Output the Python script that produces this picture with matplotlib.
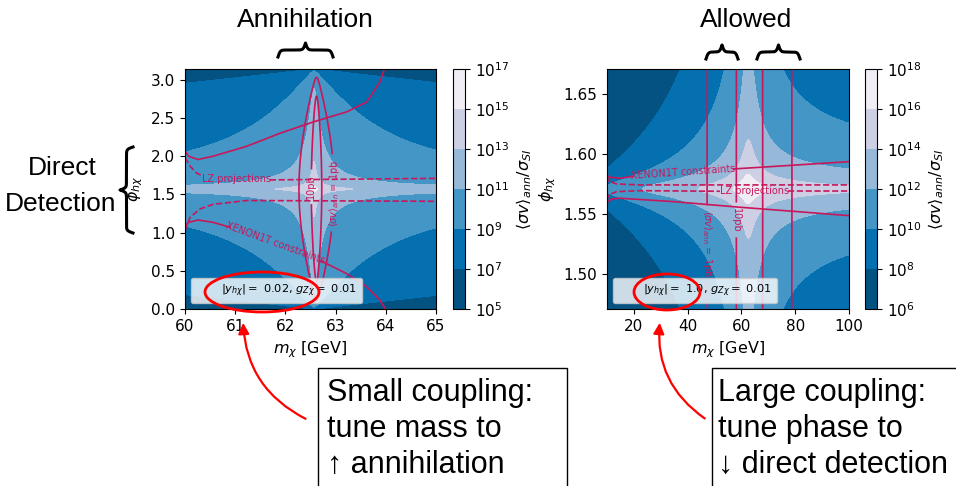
import numpy as np
import matplotlib
matplotlib.use('Agg')
import matplotlib.pyplot as plt
from matplotlib.lines import Line2D
from matplotlib.patches import Ellipse, Rectangle, FancyArrowPatch

# ---- colour bands of <sigma v>/sigma_SI (log10) ----
left_levels = [5, 7, 9, 11, 13, 15, 17]
right_levels = [6, 8, 10, 12, 14, 16, 18]
band_colors = ['#045282', '#0570b0', '#4496c7', '#96b8d9', '#cdcfe5', '#f1edf5']

# model parameters of the ratio field
left_ratio = dict(C=12.15, m0=62.57, w=0.036, q=1.0, n=0.0, p=1.0, b=3e-4, eps=1e-4)
right_ratio = dict(C=8.47, m0=62.5, w=1.8, q=1.6, n=3.5, p=2.0, b=2.2e-5, eps=1e-4)

# annihilation cross section (pb) contours
sv_levels = [1, 10]
left_sv = dict(S0=82.6, m0=62.62, w=0.0387)
right_sv = dict(S0=250.0, m0=63.0, w=1.0)

# XENON1T / LZ curves (m, phi)
xen_up_L_m = [59.98, 60.07, 60.26, 60.56, 61.23, 61.89, 62.56, 63.22, 63.62, 63.88, 64.02]
xen_up_L_p = [2.09, 2.00, 1.957, 2.00, 2.13, 2.30, 2.45, 2.58, 2.71, 2.97, 3.23]
xen_lo_L_m = [59.98, 60.07, 60.26, 60.56, 60.9, 61.56, 62.22, 62.69, 63.22, 63.62, 63.88, 63.98]
xen_lo_L_p = [1.069, 1.134, 1.165, 1.134, 1.069, 0.896, 0.766, 0.636, 0.463, 0.29, 0.117, 0.009]
lz_up_L_m = [60.0, 60.1, 60.23, 60.36, 61.69, 65.0]
lz_up_L_p = [1.98, 1.87, 1.78, 1.74, 1.69, 1.71]
lz_lo_L_m = [60.0, 60.1, 60.3, 60.56, 61.23, 65.0]
lz_lo_L_p = [1.026, 1.20, 1.31, 1.37, 1.42, 1.41]

xen_up_R_m = [10, 11.1, 14.8, 19.8, 57.0, 80.5, 100]
xen_up_R_p = [1.582, 1.5806, 1.5797, 1.5814, 1.5875, 1.5908, 1.5936]
xen_lo_R_m = [10, 11.7, 14.8, 34.6, 59.4, 80.5, 100]
xen_lo_R_p = [1.5597, 1.5625, 1.5631, 1.5603, 1.5556, 1.552, 1.5486]
lz_up_R_m = [10, 10.5, 13.6, 22.3, 100]
lz_up_R_p = [1.582, 1.5775, 1.575, 1.5742, 1.5742]
lz_lo_R_m = [10, 10.5, 13.6, 22.3, 52.0, 77.4, 100]
lz_lo_R_p = [1.561, 1.5658, 1.5686, 1.5694, 1.5689, 1.5689, 1.5689]

LC = '#c8175a'
plt.rcParams['xtick.labelsize'] = 11
plt.rcParams['ytick.labelsize'] = 11
plt.rcParams['axes.labelsize'] = 11.5


def ratio_field(m, phi, C, m0, w, q, n, p, b, eps):
    bw = w**2 / ((m - m0)**2 + w**2)
    return (C + q*np.log10(bw) + n*np.log10(m/m0)
            + p*np.log10((np.sin(phi)**2 + eps) / (np.cos(phi)**2 + b)))


def sv_field(m, phi, S0, m0, w):
    return S0 * np.sin(phi)**2 * w**2 / ((m - m0)**2 + w**2)


def gap_plot(ax, m, p, gap=None, **kw):
    m = np.asarray(m); p = np.asarray(p)
    if gap is None:
        ax.plot(m, p, **kw)
        return
    a = m <= gap[0]
    b = m >= gap[1]
    ax.plot(m[a], p[a], **kw)
    ax.plot(m[b], p[b], **kw)


def panel(ax, cax, mr, pr, rp, svp, levels):
    m = np.linspace(mr[0], mr[1], 900)
    ph = np.linspace(pr[0], pr[1], 700)
    M, P = np.meshgrid(m, ph)
    L = np.clip(ratio_field(M, P, **rp), levels[0] + 1e-3, levels[-1] - 1e-3)
    cf = ax.contourf(M, P, L, levels=levels, colors=band_colors)
    cs = ax.contour(M, P, sv_field(M, P, **svp), levels=sv_levels,
                    colors=LC, linewidths=1.2)
    cb = plt.colorbar(cf, cax=cax, ticks=levels)
    cb.ax.set_yticklabels([r'$10^{%d}$' % v for v in levels])
    cb.set_label(r'$\langle\sigma v\rangle_{ann}/\sigma_{SI}$', fontsize=11.5)
    ax.set_xlim(mr)
    ax.set_ylim(pr)
    ax.set_xlabel(r'$m_\chi$ [GeV]')
    ax.set_ylabel(r'$\phi_{h\chi}$')
    return cs


W, H = 956, 486
fig = plt.figure(figsize=(W/100, H/100), dpi=100)


def box(x0, y0, x1, y1):
    return [x0/W, 1 - y1/H, (x1 - x0)/W, (y1 - y0)/H]


axL = fig.add_axes(box(185, 69, 436, 309))
caxL = fig.add_axes(box(453, 69, 465, 309))
axR = fig.add_axes(box(607, 69, 849, 309))
caxR = fig.add_axes(box(865, 69, 877, 309))

csL = panel(axL, caxL, (60, 65), (0, np.pi), left_ratio, left_sv, left_levels)
csR = panel(axR, caxR, (10, 100), (np.pi/2 - 0.1, np.pi/2 + 0.1), right_ratio, right_sv, right_levels)

sv_fmt = {1: r'$\langle\sigma v\rangle_{ann}$ = 1pb', 10: '10pb'}
axL.clabel(csL, inline=True, fmt=sv_fmt, fontsize=7, manual=[(62.97, 1.52), (62.52, 1.60)])
axR.clabel(csR, inline=True, fmt=sv_fmt, fontsize=7, manual=[(48.0, 1.525), (58.2, 1.545)])

# constraint curves
gap_plot(axL, xen_up_L_m, xen_up_L_p, color=LC, lw=1.2)
gap_plot(axL, xen_lo_L_m, xen_lo_L_p, gap=(60.95, 62.65), color=LC, lw=1.2)
gap_plot(axL, lz_up_L_m, lz_up_L_p, gap=(60.4, 61.65), color=LC, lw=1.2, ls='--')
gap_plot(axL, lz_lo_L_m, lz_lo_L_p, color=LC, lw=1.2, ls='--')
axL.text(61.8, 0.86, 'XENON1T constraints', color=LC, fontsize=7, rotation=-20,
         ha='center', va='center', rotation_mode='anchor')
axL.text(61.02, 1.70, 'LZ projections', color=LC, fontsize=7, ha='center', va='center')

gap_plot(axR, xen_up_R_m, xen_up_R_p, gap=(20.0, 56.9), color=LC, lw=1.2)
gap_plot(axR, xen_lo_R_m, xen_lo_R_p, color=LC, lw=1.2)
gap_plot(axR, lz_up_R_m, lz_up_R_p, color=LC, lw=1.2, ls='--')
gap_plot(axR, lz_lo_R_m, lz_lo_R_p, gap=(52.0, 77.4), color=LC, lw=1.2, ls='--')
axR.text(38.4, 1.5845, 'XENON1T constraints', color=LC, fontsize=7, rotation=4,
         ha='center', va='center', rotation_mode='anchor')
axR.text(64.7, 1.5689, 'LZ projections', color=LC, fontsize=7, ha='center', va='center')

axL.set_xticks([60, 61, 62, 63, 64, 65])
axL.set_yticks([0.0, 0.5, 1.0, 1.5, 2.0, 2.5, 3.0])
axR.set_xticks([20, 40, 60, 80, 100])
axR.set_yticks([1.50, 1.55, 1.60, 1.65])
axR.set_yticklabels(['1.50', '1.55', '1.60', '1.65'])

dummy = Line2D([], [], ls='none')
axL.legend([dummy], [r'$|y_{h\chi}|=$ 0.02, $g_{Z\chi}=$ 0.01'], loc='lower left',
           fontsize=8.2, handlelength=1.5)
axR.legend([dummy], [r'$|y_{h\chi}|=$ 1.0, $g_{Z\chi}=$ 0.01'], loc='lower left',
           fontsize=8.2, handlelength=1.5)

# ---- annotations in figure pixels ----
def fxy(x, y):
    return (x/W, 1 - y/H)

sans = ['Liberation Sans', 'DejaVu Sans']
fig.text(*fxy(305, 20), 'Annihilation', family=sans, fontsize=19, ha='center', va='center')
fig.text(*fxy(746, 20), 'Allowed', family=sans, fontsize=19, ha='center', va='center')
fig.text(*fxy(62, 168), 'Direct', family=sans, fontsize=19, ha='center', va='center')
fig.text(*fxy(61, 204), 'Detection', family=sans, fontsize=19, ha='center', va='center')


def brace(x0, x1, tip, end, vertical=False, beta=0.9):
    t = np.linspace(0, (x1 - x0)/2, 200)
    half = 1/(1 + np.exp(-beta*(t - t[0]))) + 1/(1 + np.exp(-beta*(t - t[-1])))
    v = np.concatenate([half, half[-2::-1]]) - 0.5
    s = np.linspace(x0, x1, len(v))
    d = end + v*(tip - end)
    xs, ys = (d, s) if vertical else (s, d)
    fig.add_artist(Line2D(xs/W, 1 - ys/H, transform=fig.transFigure, color='k', lw=2.2))


brace(278, 333, 43, 57)
brace(706, 738, 45, 59)
brace(757, 800, 45, 59)
brace(147, 233, 120, 133, vertical=True)

txt1 = 'Small coupling:\ntune mass to\n\u2191 annihilation'
txt2 = 'Large coupling:\ntune phase to\n\u2193 direct detection'
fig.text(*fxy(327, 378), txt1, family=sans, fontsize=22, ha='left', va='top', linespacing=1.25)
fig.text(*fxy(718, 378), txt2, family=sans, fontsize=22, ha='left', va='top', linespacing=1.25)
fig.add_artist(Rectangle(fxy(318, 495), (567 - 318)/W, (495 - 368)/H, transform=fig.transFigure,
                         fill=False, ec='k', lw=1))
fig.add_artist(Rectangle(fxy(712, 495), (965 - 712)/W, (495 - 368)/H, transform=fig.transFigure,
                         fill=False, ec='k', lw=1))

fig.add_artist(Ellipse(fxy(262, 292), 114/W, 40/H, transform=fig.transFigure,
                       fill=False, ec='red', lw=2))
fig.add_artist(Ellipse(fxy(667, 292), 66/W, 36/H, transform=fig.transFigure,
                       fill=False, ec='red', lw=2))
fig.add_artist(FancyArrowPatch(fxy(308, 420), fxy(243, 320), transform=fig.transFigure,
                               connectionstyle='arc3,rad=-0.3', arrowstyle='-|>',
                               mutation_scale=16, color='red', lw=1.6))
fig.add_artist(FancyArrowPatch(fxy(707, 420), fxy(660, 320), transform=fig.transFigure,
                               connectionstyle='arc3,rad=-0.3', arrowstyle='-|>',
                               mutation_scale=16, color='red', lw=1.6))

fig.savefig('out.png', dpi=100)
